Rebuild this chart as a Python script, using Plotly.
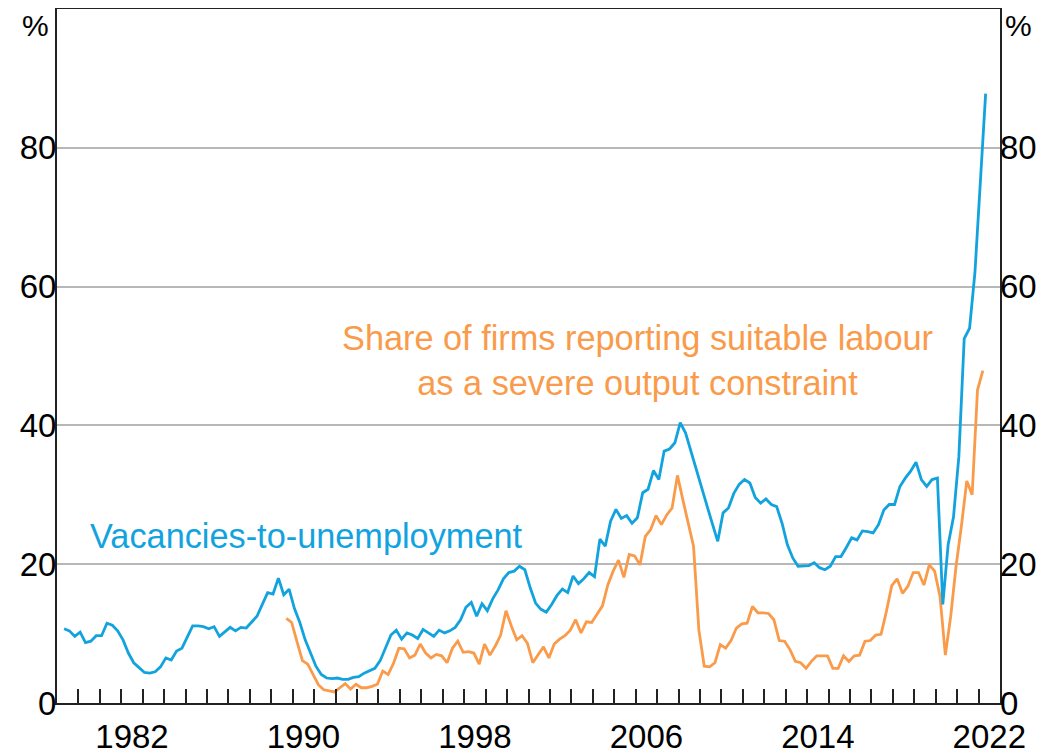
import plotly.graph_objects as go

# Vacancies-to-unemployment ratio, quarterly, 1979 Q2 - 2022 Q2 (%)
vu_start = (1979, 2)
vu_values = [
    10.7, 10.4, 9.6,
    10.2, 8.7, 8.9, 9.7,
    9.7, 11.5, 11.2, 10.4,
    9.1, 7.2, 5.8, 5.1,
    4.4, 4.3, 4.5, 5.2,
    6.5, 6.2, 7.5, 7.9,
    9.6, 11.1, 11.1, 11.0,
    10.7, 11.0, 9.6, 10.2,
    10.9, 10.4, 10.9, 10.8,
    11.7, 12.5, 14.2, 15.9,
    15.7, 18.0, 15.6, 16.4,
    13.6, 11.6, 9.1, 7.2,
    5.3, 4.1, 3.6, 3.5,
    3.6, 3.4, 3.4, 3.7,
    3.8, 4.3, 4.6, 5.0,
    6.1, 7.9, 9.8, 10.5,
    9.2, 10.1, 9.8, 9.3,
    10.6, 10.1, 9.6, 10.5,
    10.1, 10.4, 10.9, 12.0,
    13.8, 14.5, 12.5, 14.3,
    13.3, 15.0, 16.3, 17.9,
    18.8, 19.0, 19.7, 19.2,
    16.6, 14.4, 13.5, 13.1,
    14.2, 15.5, 16.4, 15.9,
    18.3, 17.2, 17.9, 18.8,
    18.2, 23.6, 22.6, 26.2,
    27.9, 26.6, 27.0, 25.9,
    26.7, 30.3, 30.8, 33.5,
    32.2, 36.3, 36.6, 37.5,
    40.4, 38.9, 36.2, 33.6,
    31.0, 28.4, 25.8, 23.3,
    27.4, 28.1, 30.2, 31.5,
    32.2, 31.7, 29.6, 28.8,
    29.4, 28.6, 28.3, 25.9,
    22.8, 20.9, 19.7, 19.7,
    19.8, 20.2, 19.5, 19.2,
    19.7, 21.1, 21.1, 22.4,
    23.8, 23.5, 24.8, 24.7,
    24.5, 25.7, 27.8, 28.6,
    28.6, 31.2, 32.4, 33.4,
    34.7, 32.2, 31.2, 32.2,
    32.4, 14.2, 22.8, 26.8,
    35.5, 52.5, 54.0, 62.0,
    75.0, 87.8,
]

# Share of firms reporting suitable labour as a severe output constraint,
# quarterly, 1989 Q3 - 2022 Q1 (%)
labour_start = (1989, 3)
labour_values = [
    12.2, 11.6,
    8.8, 6.1, 5.6, 4.0,
    2.6, 1.9, 1.7, 1.6,
    2.2, 2.8, 2.0, 2.7,
    2.2, 2.2, 2.4, 2.7,
    4.6, 4.1, 5.7, 7.9,
    7.8, 6.5, 6.9, 8.5,
    7.2, 6.5, 7.0, 6.8,
    5.8, 7.9, 8.9, 7.3,
    7.4, 7.2, 5.6, 8.5,
    6.9, 8.2, 9.8, 13.3,
    11.1, 9.1, 9.7, 8.6,
    5.8, 7.0, 8.1, 6.5,
    8.5, 9.2, 9.7, 10.5,
    12.0, 10.1, 11.7, 11.6,
    12.9, 14.0, 17.0, 19.0,
    20.6, 18.1, 21.4, 21.2,
    19.9, 24.0, 25.0, 27.0,
    25.7, 27.1, 28.1, 32.8,
    29.3, 25.7, 22.6, 10.5,
    5.3, 5.2, 5.8, 8.4,
    7.9, 9.0, 10.8, 11.4,
    11.5, 13.9, 13.0, 13.0,
    12.9, 12.0, 9.0, 8.9,
    7.7, 6.0, 5.8, 5.0,
    6.0, 6.8, 6.8, 6.8,
    5.0, 5.0, 6.8, 6.0,
    6.8, 6.9, 8.9, 9.0,
    9.8, 9.9, 13.2, 16.9,
    17.9, 15.8, 16.8, 18.8,
    18.8, 17.0, 19.9, 19.0,
    15.4, 6.9, 12.5, 19.7,
    25.5, 32.0, 30.0, 45.1,
    47.9,
]

tick_years = [1982, 1990, 1998, 2006, 2014, 2022]
minor_years = list(range(1980, 2023))
y_ticks = [0, 20, 40, 60, 80]

BLUE = "#12A3DF"
ORANGE = "#F99B4A"
FONT = "Arial, 'Liberation Sans', sans-serif"


def quarter_x(start, n, offset):
    y0, q0 = start
    out = []
    for i in range(n):
        k = (q0 - 1) + i
        out.append(y0 + k // 4 + (k % 4) / 4 + offset)
    return out


vu_x = quarter_x(vu_start, len(vu_values), 0.08)
lab_x = quarter_x(labour_start, len(labour_values), 0.2)

fig = go.Figure()
fig.add_trace(go.Scatter(x=lab_x, y=labour_values, mode="lines",
                         line=dict(color=ORANGE, width=2.8), showlegend=False))
fig.add_trace(go.Scatter(x=vu_x, y=vu_values, mode="lines",
                         line=dict(color=BLUE, width=2.8), showlegend=False))
fig.add_trace(go.Scatter(x=[None], y=[None], yaxis="y2", showlegend=False))

# the page body adds an 8px offset, margins compensate for it
fig.update_layout(
    width=1046, height=754,
    margin=dict(l=49, r=54, t=1, b=59),
    paper_bgcolor="white", plot_bgcolor="white",
    font=dict(family=FONT, size=33, color="black"),
    xaxis=dict(
        range=[1979, 2023], automargin=False,
        tickvals=[y + 0.5 for y in tick_years],
        ticktext=[str(y) for y in tick_years],
        ticks="", showgrid=False, zeroline=False,
        showline=True, mirror=True, linecolor="#222", linewidth=2,
        tickfont=dict(size=33), ticklabelstandoff=3,
        minor=dict(tickvals=minor_years, ticks="inside", ticklen=14,
                   tickwidth=1.6, tickcolor="#222", showgrid=False),
    ),
    yaxis=dict(
        range=[0, 100], tickvals=y_ticks, ticks="", automargin=False,
        showgrid=True, gridcolor="#b8b8b8", gridwidth=1.5,
        zeroline=False, showline=True, mirror=True,
        linecolor="#222", linewidth=2, tickfont=dict(size=33),
        ticklabelstandoff=-8,
    ),
    yaxis2=dict(
        range=[0, 100], tickvals=y_ticks, ticks="", overlaying="y",
        side="right", showgrid=False, zeroline=False, showline=False,
        tickfont=dict(size=33), automargin=False, ticklabelstandoff=-1,
    ),
    annotations=[
        dict(text="%", xref="paper", yref="paper", x=-0.006, y=0.976,
             xanchor="right", yanchor="middle", showarrow=False,
             font=dict(size=30)),
        dict(text="%", xref="paper", yref="paper", x=1.003, y=0.976,
             xanchor="left", yanchor="middle", showarrow=False,
             font=dict(size=30)),
        dict(text="Vacancies-to-unemployment", x=1980.45, y=24.1,
             xanchor="left", yanchor="middle", showarrow=False,
             font=dict(size=34.3, color=BLUE)),
        dict(text="Share of firms reporting suitable labour<br>as a severe output constraint",
             x=2006.1, y=49.3, xanchor="center", yanchor="middle",
             align="center", showarrow=False,
             font=dict(size=34.3, color=ORANGE)),
    ],
)

fig.write_html("out.html")
